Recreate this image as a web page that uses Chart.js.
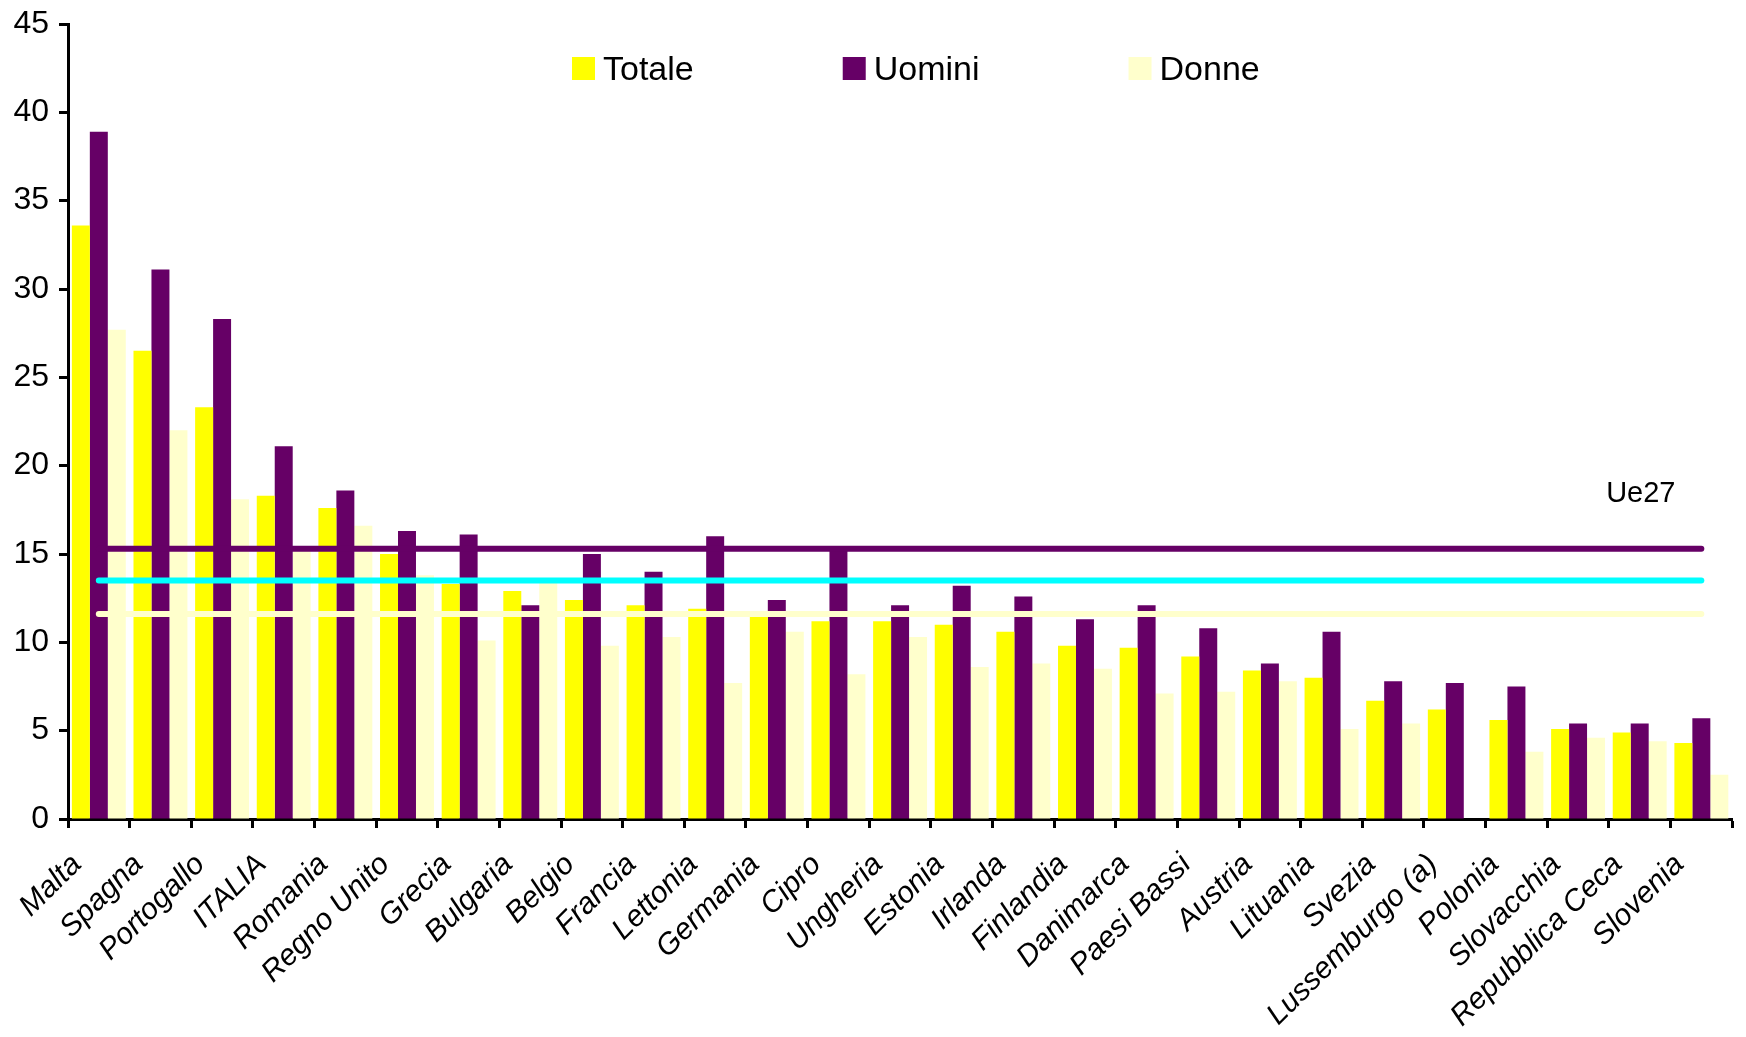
<!DOCTYPE html>
<html>
<head>
<meta charset="utf-8">
<script src="https://cdn.jsdelivr.net/npm/chart.js@4.4.1/dist/chart.umd.min.js"></script>
<style>
  html, body { margin: 0; padding: 0; background: #ffffff; }
  #wrap { width: 1746px; height: 1037px; }
</style>
</head>
<body>
<div id="wrap"><canvas id="c" width="1746" height="1037"></canvas></div>
<script>
const categories = ["Malta", "Spagna", "Portogallo", "ITALIA", "Romania", "Regno Unito", "Grecia", "Bulgaria", "Belgio", "Francia", "Lettonia", "Germania", "Cipro", "Ungheria", "Estonia", "Irlanda", "Finlandia", "Danimarca", "Paesi Bassi", "Austria", "Lituania", "Svezia", "Lussemburgo (a)", "Polonia", "Slovacchia", "Repubblica Ceca", "Slovenia"];
const totale = [33.6, 26.5, 23.3, 18.3, 17.6, 15.0, 13.3, 12.9, 12.4, 12.1, 11.9, 11.6, 11.2, 11.2, 11.0, 10.6, 9.8, 9.7, 9.2, 8.4, 8.0, 6.7, 6.2, 5.6, 5.1, 4.9, 4.3];
const uomini = [38.9, 31.1, 28.3, 21.1, 18.6, 16.3, 16.1, 12.1, 15.0, 14.0, 16.0, 12.4, 15.4, 12.1, 13.2, 12.6, 11.3, 12.1, 10.8, 8.8, 10.6, 7.8, 7.7, 7.5, 5.4, 5.4, 5.7];
const donne = [27.7, 22.0, 18.1, 15.4, 16.6, 13.8, 10.1, 13.4, 9.8, 10.3, 7.7, 10.6, 8.2, 10.3, 8.6, 8.8, 8.5, 7.1, 7.2, 7.8, 5.1, 5.4, null, 3.8, 4.6, 4.4, 2.5];
const ue27Uomini = 15.3;
const ue27Totale = 13.5;
const ue27Donne = 11.6;
const seriesNames = ["Totale", "Uomini", "Donne"];
const ueLabel = "Ue27";

const FONT = "'Liberation Sans', Arial, sans-serif";
const COL_TOT = "#FFFF00", COL_UOM = "#660066", COL_DON = "#FFFFCC", COL_CYAN = "#00FFFF";

function refLine(label, value, color) {
  return {
    type: 'line', label: label,
    data: [{x: categories[0], y: value}, {x: categories[categories.length - 1], y: value}],
    borderColor: color, backgroundColor: color, borderWidth: 6, borderCapStyle: 'round',
    pointRadius: 0, fill: false, order: 0
  };
}

const legendPlugin = {
  id: 'customLegend',
  afterDraw(chart) {
    const {ctx, chartArea} = chart;
    const items = chart.data.datasets.filter(d => d.type !== 'line');
    ctx.save();
    ctx.font = "34px " + FONT;
    ctx.textBaseline = 'alphabetic';
    let x = chartArea.left + 504;
    const base = chartArea.top + 56;
    items.forEach(d => {
      ctx.fillStyle = d.backgroundColor;
      ctx.fillRect(x, base - 23, 23, 23);
      ctx.fillStyle = '#000';
      ctx.fillText(d.label, x + 31, base);
      x += 31 + ctx.measureText(d.label).width + 149;
    });
    ctx.font = "29px " + FONT;
    ctx.fillText(ueLabel, chartArea.right - 126, chartArea.top + 478);
    ctx.restore();
  }
};

new Chart(document.getElementById('c'), {
  type: 'bar',
  data: {
    labels: categories,
    datasets: [
      refLine('Ue27 ' + seriesNames[1], ue27Uomini, COL_UOM),
      refLine('Ue27 ' + seriesNames[0], ue27Totale, COL_CYAN),
      refLine('Ue27 ' + seriesNames[2], ue27Donne, COL_DON),
      {label: seriesNames[0], data: totale, backgroundColor: COL_TOT, order: 1},
      {label: seriesNames[1], data: uomini, backgroundColor: COL_UOM, order: 1},
      {label: seriesNames[2], data: donne, backgroundColor: COL_DON, order: 1}
    ]
  },
  options: {
    responsive: false,
    animation: false,
    devicePixelRatio: 1,
    layout: {padding: {top: 24, right: 11, bottom: 0, left: 0}},
    datasets: {bar: {categoryPercentage: 0.875, barPercentage: 1.0}},
    plugins: {legend: {display: false}, tooltip: {enabled: false}},
    scales: {
      x: {
        grid: {display: true, drawOnChartArea: false, drawTicks: true, tickLength: 9, tickWidth: 3, tickColor: '#000', offset: true},
        border: {display: true, color: '#000', width: 3},
        ticks: {autoSkip: false, minRotation: 45, maxRotation: 45, color: '#000', padding: 19, labelOffset: -22,
                font: {family: FONT, size: 30, style: 'italic'}},
        afterFit: s => { s.height = 218; }
      },
      y: {
        min: 0, max: 45,
        grid: {display: true, drawOnChartArea: false, drawTicks: true, tickLength: 9, tickWidth: 3, tickColor: '#000'},
        border: {display: true, color: '#000', width: 3},
        ticks: {stepSize: 5, color: '#000', padding: 10, font: {family: FONT, size: 32}},
        afterFit: s => { s.width = 68; s.paddingTop = 0; s.paddingBottom = 0; }
      }
    }
  },
  plugins: [legendPlugin]
});
</script>
</body>
</html>
